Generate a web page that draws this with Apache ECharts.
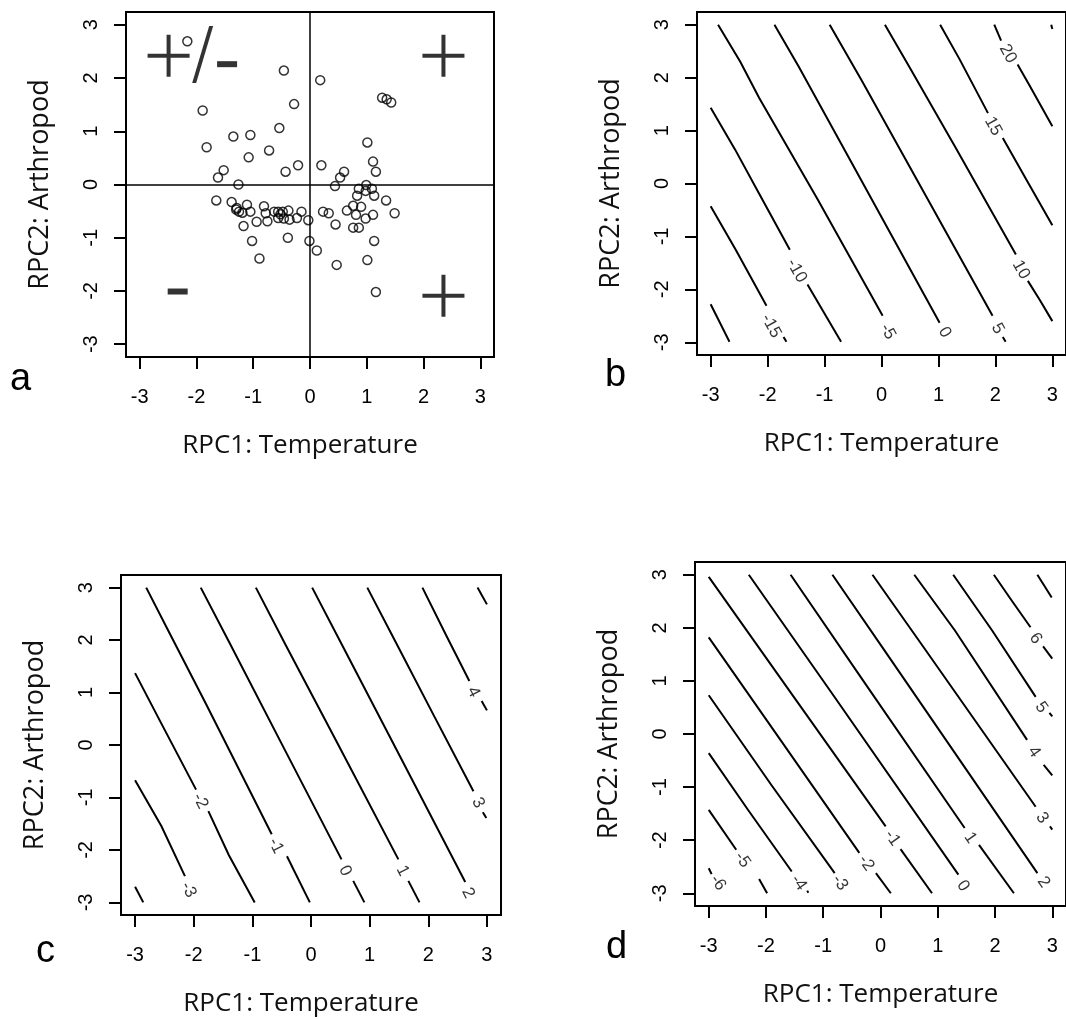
<!DOCTYPE html>
<html><head><meta charset="utf-8">
<script src="https://cdn.jsdelivr.net/npm/echarts@6/dist/echarts.min.js"></script>
<style>html,body{margin:0;padding:0;background:#fff}#c{width:1066px;height:1019px}</style>
</head><body><div id="c"></div>
<script>
// ---------- data ----------
const ticks = [-3, -2, -1, 0, 1, 2, 3];
const xTitle = 'RPC1: Temperature';
const yTitle = 'RPC2: Arthropod';
const panelLetters = ['a', 'b', 'c', 'd'];

// panel a: site scores
const scatterPoints = [
  [-2.16,2.69],[-0.46,2.14],[0.18,1.96],[1.27,1.63],[1.35,1.60],[1.43,1.54],
  [-1.89,1.39],[-0.28,1.51],[-0.54,1.06],[-1.35,0.90],[-1.05,0.93],[-1.82,0.70],
  [-0.72,0.64],[-1.08,0.51],[1.01,0.79],[1.11,0.43],[1.16,0.24],[-0.21,0.36],
  [0.20,0.36],[-0.43,0.24],[-1.52,0.27],[-1.62,0.13],[-1.26,0.00],[0.60,0.24],
  [0.53,0.13],[0.44,-0.03],[0.99,-0.01],[0.86,-0.08],[0.98,-0.12],[1.09,-0.08],
  [0.83,-0.21],[1.13,-0.21],[-1.65,-0.30],[-1.38,-0.33],[-1.29,-0.44],[-1.11,-0.38],
  [-1.25,-0.51],[-1.19,-0.53],[-1.05,-0.51],[-1.17,-0.78],[-0.81,-0.41],[-0.78,-0.54],
  [-0.94,-0.70],[-0.75,-0.69],[-0.63,-0.51],[-0.56,-0.51],[-0.48,-0.51],[-0.38,-0.49],
  [-0.56,-0.63],[-0.46,-0.64],[-0.36,-0.66],[-0.23,-0.63],[-0.15,-0.51],[-0.03,-0.67],
  [-1.02,-1.06],[-0.89,-1.39],[-0.39,-1.00],[-0.01,-1.06],[0.12,-1.24],[0.23,-0.51],
  [0.33,-0.54],[0.45,-0.75],[0.65,-0.49],[0.76,-0.40],[0.90,-0.42],[0.81,-0.57],
  [0.98,-0.64],[1.11,-0.57],[0.76,-0.81],[0.86,-0.81],[1.34,-0.30],[1.49,-0.54],
  [1.13,-1.06],[0.47,-1.51],[1.01,-1.42],[1.16,-2.02],[-1.30,-0.47],[-0.52,-0.56]
];
const quadrantPlus = [[-2.49, 2.42], [2.35, 2.42], [2.35, -2.09]];
const quadrantMinus = [[-1.46, 2.26], [-2.33, -2.01]];
const quadrantSlash = [[-1.89, 2.44]];

// panel b contours (segments) and labels
const linesB = [
  [[-3.0,-2.28],[-2.67,-2.99]],
  [[-3.0,-0.43],[-2.56,-1.25],[-2.02,-2.31]], [[-1.72,-2.90],[-1.67,-2.99]],
  [[-3.0,1.43],[-2.57,0.64],[-2.16,-0.17],[-1.61,-1.25]], [[-1.30,-1.91],[-0.71,-2.99]],
  [[-2.87,3.0],[-2.48,2.30],[-2.15,1.62],[-1.12,-0.30],[0.02,-2.50]],
  [[-1.88,3.0],[-1.45,2.20],[-0.58,0.50],[1.02,-2.63]],
  [[-0.91,3.0],[-0.35,1.95],[1.95,-2.50]], [[2.13,-2.90],[2.18,-2.99]],
  [[0.06,3.0],[0.49,2.20],[1.29,0.70],[2.36,-1.34]], [[2.57,-1.84],[2.78,-2.20],[3.0,-2.60]],
  [[1.03,3.0],[1.37,2.35],[1.87,1.33]], [[2.13,0.86],[2.54,0.08],[3.0,-0.79]],
  [[1.98,3.0],[2.10,2.70]], [[2.39,2.25],[2.60,1.85],[3.0,1.08]],
  [[2.98,3.0],[3.0,2.92]]
];
const labelsB = [
  [-1.94,-2.69,'-15'],[-1.49,-1.65,'-10'],[0.11,-2.80,'-5'],[1.11,-2.81,'0'],
  [2.04,-2.74,'5'],[2.45,-1.63,'10'],[1.96,1.08,'15'],[2.22,2.45,'20']
];

// panel c contours
const linesC = [
  [[-3.0,-2.70],[-2.86,-3.0]],
  [[-3.0,-0.67],[-2.55,-1.55],[-2.15,-2.50]],
  [[-3.0,1.37],[-2.58,0.47],[-1.96,-0.85]], [[-1.75,-1.26],[-1.40,-2.10],[-0.96,-3.0]],
  [[-2.81,3.0],[-2.42,2.15],[-1.79,0.78],[-0.67,-1.70]], [[-0.41,-2.12],[-0.02,-3.0]],
  [[-1.88,3.0],[-1.39,1.95],[-0.42,-0.15],[0.52,-2.18]], [[0.72,-2.59],[0.91,-3.0]],
  [[-0.94,3.0],[-0.43,1.90],[0.42,0.10],[1.49,-2.18]], [[1.66,-2.59],[1.85,-3.0]],
  [[0.02,3.0],[0.51,1.95],[1.51,-0.20],[2.63,-2.61]],
  [[0.96,3.0],[1.45,1.95],[2.10,0.55],[2.77,-0.88]], [[2.93,-1.28],[2.99,-1.39]],
  [[1.90,3.0],[2.30,2.10],[2.70,1.22]], [[2.91,0.84],[3.0,0.66]],
  [[2.84,3.0],[3.0,2.68]]
];
const labelsC = [
  [-2.09,-2.76,'-3'],[-1.89,-1.07,'-2'],[-0.60,-1.92,'-1'],[0.58,-2.40,'0'],
  [1.56,-2.40,'1'],[2.68,-2.82,'2'],[2.85,-1.10,'3'],[2.77,1.01,'4']
];

// panel d contours
const linesD = [
  [[2.74,3.0],[2.99,2.57]],
  [[1.98,3.0],[2.30,2.50],[2.62,2.01]], [[2.84,1.65],[3.0,1.42]],
  [[1.27,3.0],[1.95,1.95],[2.71,0.70]], [[2.95,0.40],[3.0,0.33]],
  [[0.59,3.0],[1.30,1.95],[2.56,-0.11]], [[2.85,-0.58],[3.0,-0.78]],
  [[-0.14,3.0],[0.71,1.70],[2.71,-1.37]], [[2.96,-1.74],[3.0,-1.80]],
  [[-0.84,3.0],[0.18,1.40],[2.74,-2.62]],
  [[-1.57,3.0],[-0.30,1.00],[1.47,-1.77]], [[1.72,-2.09],[2.33,-3.0]],
  [[-2.30,3.0],[-0.87,0.80],[1.36,-2.65]],
  [[-3.0,2.96],[-1.45,0.60],[0.09,-1.74]], [[0.35,-2.17],[0.90,-3.0]],
  [[-3.0,1.82],[-1.69,-0.20],[-0.37,-2.24]], [[-0.08,-2.62],[0.18,-3.0]],
  [[-3.0,0.73],[-1.90,-0.97],[-0.80,-2.62]],
  [[-3.0,-0.36],[-2.30,-1.45],[-1.55,-2.59]], [[-1.28,-2.95],[-1.26,-2.99]],
  [[-3.0,-1.43],[-2.52,-2.18]], [[-2.12,-2.73],[-1.98,-3.0]],
  [[-3.0,-2.53],[-2.95,-2.64]]
];
const labelsD = [
  [2.71,1.80,'6'],[2.81,0.50,'5'],[2.68,-0.34,'4'],[2.82,-1.58,'3'],[2.85,-2.79,'2'],
  [1.57,-1.96,'1'],[1.44,-2.86,'0'],[0.21,-1.96,'-1'],[-0.25,-2.43,'-2'],
  [-0.71,-2.80,'-3'],[-1.43,-2.80,'-4'],[-2.41,-2.37,'-5'],[-2.84,-2.80,'-6']
];

// ---------- layout ----------
const grids = [
  {left:126, top:12, width:368, height:345},
  {left:697, top:12, width:370, height:343},
  {left:121, top:575, width:380, height:340},
  {left:695, top:562, width:376, height:344}
];
const xNamePad = [[0,20,0,0],[0,0,0,0],[0,20,0,0],[0,0,0,0]];
const letterPos = [[22,385],[617,381],[48,957],[618,953]];
const labelRot = [0, -61, -63, -55];
const SANS = 'Liberation Sans, Arial, sans-serif';
const TITLE_FONT = 'Open Sans, sans-serif';

const chart = echarts.init(document.getElementById('c'), null, {renderer:'canvas'});

const xAxes = grids.map((g, i) => ({
  gridIndex:i, type:'value', min:-3.24, max:3.24,
  axisLine:{show:false, onZero:false}, splitLine:{show:false},
  axisTick:{show:true, inside:false, length:12, customValues:ticks, lineStyle:{color:'#000', width:2}},
  axisLabel:{customValues:ticks, margin:30, fontSize:20, color:'#000', fontFamily:SANS},
  name:xTitle, nameLocation:'middle', nameGap:76,
  nameTextStyle:{fontSize:26, fontFamily:TITLE_FONT, color:'#111', padding:xNamePad[i]}
}));
const yAxes = grids.map((g, i) => ({
  gridIndex:i, type:'value', min:-3.24, max:3.24,
  axisLine:{show:false, onZero:false}, splitLine:{show:false},
  axisTick:{show:true, inside:false, length:12, customValues:ticks, lineStyle:{color:'#000', width:2}},
  axisLabel:{customValues:ticks, margin:25, fontSize:20, color:'#000', fontFamily:SANS, rotate:90},
  name:yTitle, nameLocation:'middle', nameGap:72, nameRotate:90,
  nameTextStyle:{fontSize:27, fontFamily:TITLE_FONT, color:'#111'}
}));

const series = [];
// panel a
series.push({
  type:'scatter', xAxisIndex:0, yAxisIndex:0, data:scatterPoints, symbol:'circle', symbolSize:9,
  itemStyle:{color:'rgba(255,255,255,0)', borderColor:'#000', borderWidth:1.5}, silent:true,
  markLine:{silent:true, symbol:'none', label:{show:false}, animation:false,
    lineStyle:{color:'#000', width:1.5, type:'solid'}, data:[{xAxis:0},{yAxis:0}]}
});
series.push({
  type:'scatter', xAxisIndex:0, yAxisIndex:0, data:quadrantPlus, silent:true,
  symbol:'path://M0,19H42V23H0Z M19,0H23V42H19Z', symbolSize:[42,42],
  itemStyle:{color:'#000'}
});
series.push({
  type:'scatter', xAxisIndex:0, yAxisIndex:0, data:quadrantMinus, silent:true,
  symbol:'rect', symbolSize:[20,6], itemStyle:{color:'#000'}
});
series.push({
  type:'scatter', xAxisIndex:0, yAxisIndex:0, data:quadrantSlash, silent:true,
  symbol:'path://M0,57L4,57L21,0L17,0Z', symbolSize:[21,57], itemStyle:{color:'#000'}
});

function addContours(idx, segs, labels) {
  series.push({
    type:'lines', coordinateSystem:'cartesian2d', xAxisIndex:idx, yAxisIndex:idx,
    polyline:true, silent:true,
    lineStyle:{color:'#000', width:2, opacity:1},
    data:segs.map(s => ({coords:s}))
  });
  series.push({
    type:'scatter', xAxisIndex:idx, yAxisIndex:idx, silent:true, symbolSize:1,
    itemStyle:{color:'rgba(0,0,0,0)'},
    data:labels.map(l => ({value:[l[0], l[1]], name:l[2]})),
    label:{show:true, position:'inside', formatter:'{b}', rotate:labelRot[idx],
      fontSize:17, color:'#000', fontFamily:SANS}
  });
}
addContours(1, linesB, labelsB);
addContours(2, linesC, labelsC);
addContours(3, linesD, labelsD);

chart.setOption({
  animation:false,
  backgroundColor:'#fff',
  grid:grids.map(g => Object.assign({show:true, borderColor:'#000', borderWidth:2,
    backgroundColor:'rgba(0,0,0,0)'}, g)),
  xAxis:xAxes, yAxis:yAxes, series:series,
  graphic:panelLetters.map((t, i) => ({
    type:'text', left:letterPos[i][0] - 12, top:letterPos[i][1] - 24,
    style:{text:t, font:'38px ' + SANS, fill:'#000'}
  }))
});
</script></body></html>
